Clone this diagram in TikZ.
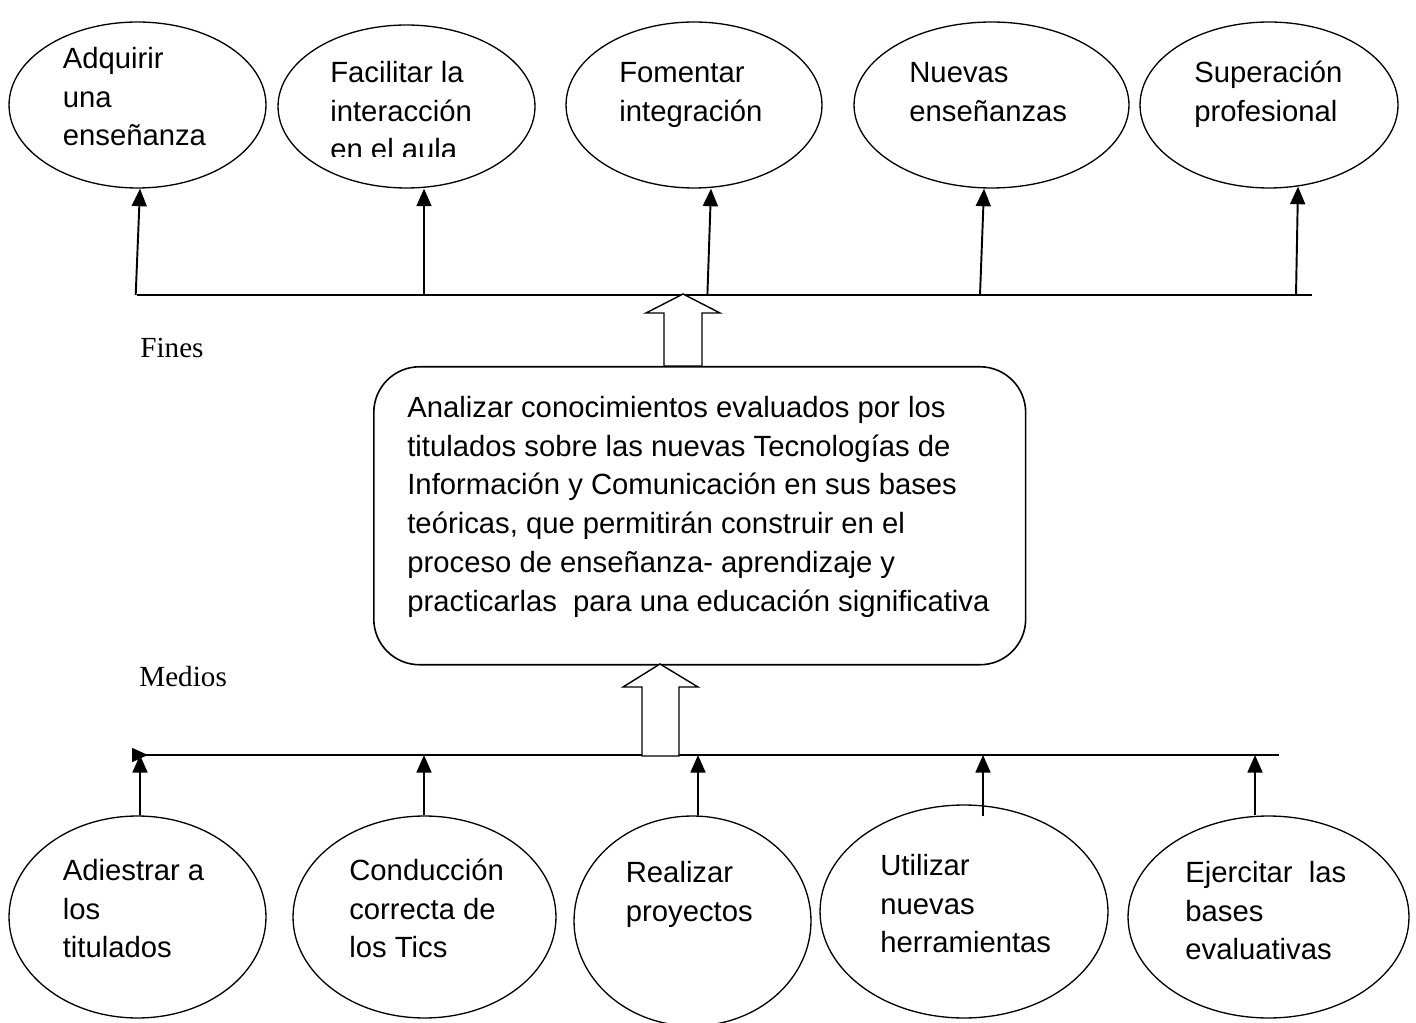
\documentclass[tikz,border=0pt]{standalone}
\usepackage{fontspec}
\setmainfont{Liberation Sans}
\newfontfamily\serifx{Liberation Serif}
\usetikzlibrary{shapes.geometric,arrows.meta,calc}
\begin{document}
\begin{tikzpicture}[x=0.02cm,y=-0.02cm,
  ell/.style={draw,ellipse,line width=0.75pt,inner sep=0pt},
  txt/.style={anchor=north west,inner sep=0pt,align=left,font=\fontsize{16.65}{22.1}\selectfont},
  lbl/.style={anchor=base west,inner sep=0pt,font=\serifx\fontsize{16.6}{20}\selectfont},
  arr/.style={line width=1.1pt,-{Triangle[width=8.5pt,length=10pt]}},
  hline/.style={line width=0.8pt},
  hollow/.style={draw,line width=0.8pt,line join=miter,fill=white},
  roundbox/.style={draw,rounded corners=26pt,line width=0.9pt,inner sep=0pt,anchor=north west}]
\useasboundingbox (0,0) rectangle (1416,1023);

% ---- top ellipses (Fines)
\node[ell,minimum width=5.14cm,minimum height=3.32cm] (e1) at (137.5,105) {};
\node[ell,minimum width=5.14cm,minimum height=3.26cm] (e2) at (406.5,106.5) {};
\node[ell,minimum width=5.12cm,minimum height=3.32cm] (e3) at (694,105) {};
\node[ell,minimum width=5.50cm,minimum height=3.32cm] (e4) at (991.5,105) {};
\node[ell,minimum width=5.16cm,minimum height=3.32cm] (e5) at (1269,105) {};

\node[txt] (te1) at (62.5,68-27.3) {\strut Adquirir\\una\\enseñanza};
\begin{scope}
  \clip (280,0) rectangle (540,157);
  \node[txt] (te2) at (330,82-27.3) {\strut Facilitar la\\interacción\\en el aula};
\end{scope}
\node[txt] (te3) at (619,82-27.3) {\strut Fomentar\\integración};
\node[txt] (te4) at (909,82-27.3) {\strut Nuevas\\enseñanzas};
\node[txt] (te5) at (1194,82-27.3) {\strut Superación\\profesional};

% ---- top line and arrows
\coordinate (tl) at (137,295);
\coordinate (tr) at (1312,295);
\draw[hline] (tl) -- (tr);
\coordinate (p1) at (135.7,295);
\coordinate (p2) at (424,295);
\coordinate (p3) at (707.4,295);
\coordinate (p4) at (980,295);
\coordinate (p5) at (1296,295);
\draw[arr] (p1) -- ($(e1.south)+(2.5,0)$);
\draw[arr] (p2) -- ($(e2.south)+(17.5,0)$);
\draw[arr] (p3) -- ($(e3.south)+(17,0)$);
\draw[arr] (p4) -- ($(e4.south)+(-7.5,0)$);
\draw[arr] (p5) -- ($(e5.south)+(29,-2)$);

% ---- labels
\node[lbl] (fines) at (140,358) {Fines};
\node[lbl] (medios) at (139,686) {Medios};

% ---- central box
\node[roundbox,minimum width=13.04cm,minimum height=5.96cm] (box) at (373,366) {};
\node[txt] (boxtext) at (407,417-27.3)
  {\strut Analizar conocimientos evaluados por los\\titulados sobre las nuevas Tecnologías de\\Información y Comunicación en sus bases\\teóricas, que permitirán construir en el\\proceso de enseñanza- aprendizaje y\\practicarlas\ \ para una educación significativa};

% ---- hollow arrow from box to top line
\draw[hollow] (683,294) -- (720,313) -- (702,313) -- (702,366) -- (664,366) -- (664,313) -- (646,313) -- cycle;

% ---- bottom line
\coordinate (bl) at (132,755);
\coordinate (br) at (1279,755);
\draw[hline,{Triangle[reversed,width=8pt,length=9pt]}-] (bl) -- (br);

% ---- hollow arrow from bottom line to box
\draw[hollow] (660,664) -- (698,687) -- (679,687) -- (679,756) -- (642,756) -- (642,687) -- (623,687) -- cycle;

% ---- bottom ellipses (Medios)
\node[ell,minimum width=5.14cm,minimum height=4.04cm] (b1) at (137.5,917) {};
\node[ell,minimum width=5.26cm,minimum height=4.04cm] (b2) at (424.5,917) {};
\node[ell,minimum width=4.74cm,minimum height=4.20cm] (b3) at (692.5,921) {};
\node[ell,minimum width=5.76cm,minimum height=4.26cm] (b4) at (964,911.5) {};
\node[ell,minimum width=5.62cm,minimum height=4.04cm] (b5) at (1268.5,917) {};

\node[txt] (tb1) at (62.5,880-27.3) {\strut Adiestrar a\\los\\titulados};
\node[txt] (tb2) at (349,880-27.3) {\strut Conducción\\correcta de\\los Tics};
\node[txt] (tb3) at (625.5,882-27.3) {\strut Realizar\\proyectos};
\node[txt] (tb4) at (880,875-27.3) {\strut Utilizar\\nuevas\\herramientas};
\node[txt] (tb5) at (1185,882-27.3) {\strut Ejercitar\ \ las\\bases\\evaluativas};

% ---- bottom arrows
\coordinate (q1) at (140,755);
\coordinate (q2) at (424,755);
\coordinate (q3) at (698,755);
\coordinate (q4) at (983,755);
\coordinate (q5) at (1255,755);
\draw[arr] ($(b1.north)+(2.5,0)$) -- (q1);
\draw[arr] ($(b2.north)+(-0.5,0)$) -- (q2);
\draw[arr] ($(b3.north)+(5.5,0)$) -- (q3);
\draw[arr] ($(b4.north)+(19,12)$) -- (q4);
\draw[arr] ($(b5.north)+(-13.5,0)$) -- (q5);
\end{tikzpicture}
\end{document}
